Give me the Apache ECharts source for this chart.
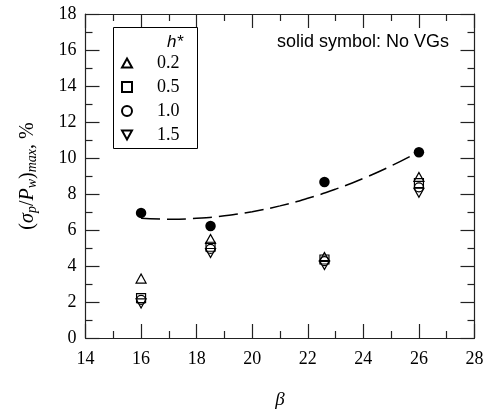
<!DOCTYPE html>
<html>
<head>
<meta charset="utf-8">
<script src="https://cdn.jsdelivr.net/npm/echarts@6/dist/echarts.min.js"></script>
<style>
  html, body { margin: 0; padding: 0; background: #fff; }
  #chart { width: 484px; height: 414px; }
</style>
</head>
<body>
<div id="chart"></div>
<script>
// Blockage ratio beta and the peak pressure-fluctuation ratio (sigma_p/P_w)_max in %
const beta = [16, 18.5, 22.6, 26];
const noVGs = [6.95, 6.22, 8.67, 10.32];          // solid circles
const h02 = [3.3, 5.5, 4.5, 8.95];
const h05 = [2.22, 5.07, 4.36, 8.6];
const h10 = [2.12, 4.95, 4.27, 8.37];
const h15 = [1.92, 4.72, 4.05, 8.07];
const hLabels = ['0.2', '0.5', '1.0', '1.5'];

// trend curve through the solid-symbol cases
const trendBeta = [16, 17, 18, 19, 20, 21, 22, 23, 24, 25, 26];
const trendVal = [6.65, 6.6, 6.65, 6.79, 7.02, 7.34, 7.76, 8.27, 8.87, 9.56, 10.35];

const xTicks = { min: 14, max: 28, interval: 2 };
const yTicks = { min: 0, max: 18, interval: 2 };

const serif = '"Liberation Serif", "Times New Roman", serif';
const sans = '"Liberation Sans", Arial, sans-serif';

const pair = (xs, ys) => xs.map((x, i) => [x, ys[i]]);

const openStyle = { color: 'rgba(255,255,255,0)', borderColor: '#000', borderWidth: 1.2, opacity: 1 };
const downTri = 'path://M0,0 L10,0 L5,9 Z';
const upTri = 'path://M5,0 L10,9 L0,9 Z';

function frameAxis(base, extra) {
  return Object.assign({
    type: 'value',
    axisLine: { show: true, onZero: false, lineStyle: { color: '#222', width: 1.2 } },
    axisTick: { show: true, inside: true, length: 14, lineStyle: { color: '#222', width: 1.2 } },
    minorTick: { show: true, splitNumber: 2, length: 7, lineStyle: { color: '#222', width: 1.2 } },
    splitLine: { show: false },
    minorSplitLine: { show: false }
  }, base, extra);
}

const chart = echarts.init(document.getElementById('chart'), null, { renderer: 'canvas' });

chart.setOption({
  animation: false,
  backgroundColor: '#fff',
  grid: { left: 85.5, right: 9.5, top: 14, bottom: 76, containLabel: false, outerBoundsMode: 'none' },
  xAxis: [
    frameAxis(xTicks, {
      position: 'bottom',
      axisLabel: { color: '#000', fontFamily: serif, fontSize: 18, margin: 12 },
      name: 'β',
      nameLocation: 'middle',
      nameGap: 52,
      nameTextStyle: { color: '#000', fontFamily: serif, fontSize: 19, fontStyle: 'italic' }
    }),
    frameAxis(xTicks, { position: 'top', axisLabel: { show: false } })
  ],
  yAxis: [
    frameAxis(yTicks, {
      position: 'left',
      axisLabel: { color: '#000', fontFamily: serif, fontSize: 18, margin: 9 },
      name: '{t|(}{i|σ}{s|p}{t|/}{i|P}{s|w}{t|)}{s|max}{t|, %}',
      nameLocation: 'middle',
      nameGap: 46,
      nameTextStyle: {
        color: '#000',
        rich: {
          t: { fontFamily: serif, fontSize: 20, color: '#000' },
          i: { fontFamily: serif, fontSize: 20, fontStyle: 'italic', color: '#000' },
          s: { fontFamily: serif, fontSize: 14, fontStyle: 'italic', color: '#000', verticalAlign: 'bottom', padding: [10, 0, 0, 0] }
        }
      }
    }),
    frameAxis(yTicks, { position: 'right', axisLabel: { show: false } })
  ],
  legend: {
    orient: 'vertical',
    left: 116,
    top: 49,
    itemWidth: 10,
    itemHeight: 10,
    itemGap: 6,
    data: hLabels,
    textStyle: { color: '#000', fontFamily: serif, fontSize: 18, padding: [0, 0, 0, 20] }
  },
  graphic: [
    {
      type: 'rect',
      shape: { x: 113.5, y: 27.5, width: 84, height: 121 },
      style: { fill: 'none', stroke: '#000', lineWidth: 1 },
      z: 5
    },
    {
      type: 'text',
      x: 183, y: 42,
      style: { text: 'h*', font: 'italic 17px ' + sans, fill: '#000', textAlign: 'right', textVerticalAlign: 'middle' },
      z: 5
    },
    {
      type: 'text',
      x: 277, y: 42,
      style: { text: 'solid symbol: No VGs', font: '18px ' + sans, fill: '#000', textAlign: 'left', textVerticalAlign: 'middle' },
      z: 5
    }
  ],
  series: [
    {
      name: 'trend',
      type: 'line',
      smooth: true,
      showSymbol: false,
      data: pair(trendBeta, trendVal),
      lineStyle: { color: '#000', width: 1.5, type: [19, 7] },
      z: 2
    },
    {
      name: 'No VGs',
      type: 'scatter',
      symbol: 'circle',
      symbolSize: 10.5,
      data: pair(beta, noVGs),
      itemStyle: { color: '#000', opacity: 1 },
      z: 3
    },
    {
      name: hLabels[0], type: 'scatter', symbol: upTri, symbolSize: [10, 9],
      data: pair(beta, h02), itemStyle: openStyle, z: 4
    },
    {
      name: hLabels[1], type: 'scatter', symbol: 'rect', symbolSize: 9,
      data: pair(beta, h05), itemStyle: openStyle, z: 4
    },
    {
      name: hLabels[2], type: 'scatter', symbol: 'circle', symbolSize: 9,
      data: pair(beta, h10), itemStyle: openStyle, z: 4
    },
    {
      name: hLabels[3], type: 'scatter', symbol: downTri, symbolSize: [10, 9],
      data: pair(beta, h15), itemStyle: openStyle, z: 4
    }
  ]
});
</script>
</body>
</html>
